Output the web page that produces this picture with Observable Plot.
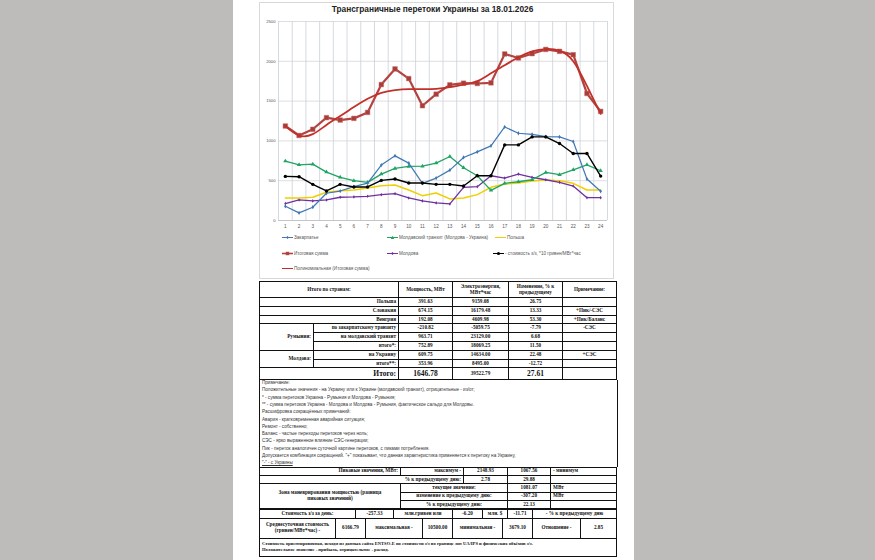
<!DOCTYPE html>
<html><head><meta charset="utf-8">
<script src="https://cdn.jsdelivr.net/npm/d3@7"></script>
<script src="https://cdn.jsdelivr.net/npm/@observablehq/plot@0.6"></script>
<style>
body{margin:0;width:875px;height:560px;position:relative;overflow:hidden;font-family:"Liberation Sans",Arial,sans-serif;}
.abs{position:absolute;}
#frame{left:259px;top:2px;width:355px;height:277px;border:1px solid #d9d9d9;box-sizing:border-box;}
#title{left:259px;top:4px;width:347px;text-align:center;font-weight:bold;font-size:8.3px;color:#222;}
#chart{left:259px;top:2px;}
.leg{position:absolute;font-size:4.6px;color:#555;white-space:nowrap;display:flex;align-items:center;height:6px;}
.leg svg{margin-right:1px;}
.cell{position:absolute;box-sizing:border-box;border-right:0.8px solid #111;border-bottom:0.8px solid #111;display:flex;align-items:center;padding:0 2px;font-family:"Liberation Serif","Times New Roman",serif;font-weight:bold;font-size:5.2px;line-height:1.15;color:#111;white-space:nowrap;overflow:hidden;}
.tbl{position:absolute;box-sizing:content-box;border-left:1.2px solid #111;border-top:1.2px solid #111;}
.note{position:absolute;left:2px;font-size:4.6px;color:#333;white-space:nowrap;}
</style></head><body>
<div class="abs" style="left:0;top:0;width:233px;height:560px;background-color:rgb(190,187,187)"></div>
<div class="abs" style="left:634px;top:0;width:241px;height:560px;background-color:rgb(190,187,187)"></div>
<div id="frame" class="abs"></div>
<div id="chart" class="abs"></div>
<div id="title" class="abs">Трансграничные перетоки Украины за 18.01.2026</div>
<div id="legend"></div>
<div id="tables"></div>
<script>
// ---------- chart data ----------
const hours = [1,2,3,4,5,6,7,8,9,10,11,12,13,14,15,16,17,18,19,20,21,22,23,24];
const yTicks = [0,500,1000,1500,2000,2500];
const zakarpattia = [179,96,167,342,370,425,470,696,812,721,467,533,633,792,862,938,1175,1096,1083,1054,1050,992,521,367];
const moldTransit = [746,700,708,608,542,500,479,583,654,679,683,721,804,662,562,379,467,487,512,604,575,637,700,625];
const poland = [283,283,292,354,375,383,408,437,446,383,312,346,271,283,325,417,458,471,496,508,500,467,383,383];
const total = [1187,1068,1146,1292,1262,1283,1358,1708,1904,1783,1442,1587,1704,1725,1721,1729,2092,2042,2096,2149,2125,2083,1596,1371];
const moldova = [212,258,246,258,292,296,304,325,337,283,246,221,208,417,425,562,533,583,542,512,479,433,287,287];
const cost = [554,550,454,371,454,421,421,504,521,471,471,454,454,433,562,562,950,950,1050,1050,967,842,842,558];
const trend = [1185,1068,1085,1200,1312,1425,1529,1604,1637,1650,1650,1654,1675,1706,1750,1850,1950,2050,2125,2154,2133,2000,1690,1340];

const seriesNames = ["Закарпатье","Молдавский транзит (Молдова - Украина)","Польша","Итоговая сумма","Молдова","- стоимость з/з, *10 гривен/МВт*час","Полиномиальная (Итоговая сумма)"];
const colors = ["#3f78b5","#1fa463","#f0cf00","#b3433f","#7030a0","#000000","#c3302a"];

const rows = (vals) => hours.map((h,i)=>({h, v: vals[i]}));
const edges = [0.5].concat(hours.map(h=>h+0.5));

const chart = Plot.plot({
  width: 355, height: 230,
  marginLeft: 19, marginRight: 7, marginTop: 19, marginBottom: 12,
  x: {domain: [0.5, 24.5], label: null},
  y: {domain: [0, 2500], label: null},
  style: {fontFamily: "'Liberation Sans',Arial,sans-serif", fontSize: "4.4px", color: "#555", background: "transparent", overflow: "visible"},
  marks: [
    Plot.gridY(yTicks, {stroke: "#d6d6d6", strokeOpacity: 1, strokeWidth: 0.8}),
    Plot.ruleX(edges, {stroke: "#c9d0d9", strokeWidth: 0.8}),
    Plot.ruleY([0], {stroke: "#bfbfbf", strokeWidth: 0.8}),
    Plot.axisX(hours, {tickSize: 0, tickPadding: 4, fontSize: 4.6, label: null, tickFormat: d => String(d)}),
    Plot.axisY(yTicks, {tickSize: 0, tickPadding: 3, fontSize: 4.2, label: null, tickFormat: d => String(d)}),
    Plot.line(rows(poland), {x:"h", y:"v", stroke: colors[2], strokeWidth: 1.5}),
    Plot.line(rows(moldova), {x:"h", y:"v", stroke: colors[4], strokeWidth: 1.3}),
    Plot.dot(rows(moldova), {x:"h", y:"v", fill: colors[4], r: 1.1, symbol: "diamond"}),
    Plot.line(rows(moldTransit), {x:"h", y:"v", stroke: colors[1], strokeWidth: 1.3}),
    Plot.dot(rows(moldTransit), {x:"h", y:"v", fill: colors[1], r: 1.6, symbol: "triangle"}),
    Plot.line(rows(zakarpattia), {x:"h", y:"v", stroke: colors[0], strokeWidth: 1.2}),
    Plot.dot(rows(zakarpattia), {x:"h", y:"v", fill: colors[0], r: 1.3, symbol: "diamond"}),
    Plot.line(rows(cost), {x:"h", y:"v", stroke: colors[5], strokeWidth: 1.4}),
    Plot.dot(rows(cost), {x:"h", y:"v", fill: colors[5], r: 1.7}),
    Plot.line(rows(total), {x:"h", y:"v", stroke: colors[3], strokeWidth: 2.2}),
    Plot.dot(rows(total), {x:"h", y:"v", fill: "#a83d3a", stroke: "#c56a66", strokeWidth: 0.5, r: 2.6, symbol: "square"}),
    Plot.line(rows(trend), {x:"h", y:"v", stroke: colors[6], strokeWidth: 1.8, curve: "natural"})
  ]
});
document.getElementById("chart").appendChild(chart);

// ---------- legend ----------
const legendPos = [[282,234],[387,234],[495,234],[282,250],[387,250],[493,250],[282,265]];
const legendMarks = ["diamond","triangle","none","square","diamond","circle","none"];
const leg = document.getElementById("legend");
seriesNames.forEach((name,i)=>{
  const d = document.createElement("div");
  d.className = "leg";
  d.style.left = legendPos[i][0]+"px"; d.style.top = legendPos[i][1]+"px";
  const c = colors[i];
  let m = "";
  if (legendMarks[i]==="diamond") m = `<path d="M5.5,1 L7,2.5 L5.5,4 L4,2.5Z" fill="${c}"/>`;
  if (legendMarks[i]==="triangle") m = `<path d="M5.5,0.8 L7.2,4 L3.8,4Z" fill="${c}"/>`;
  if (legendMarks[i]==="square") m = `<rect x="3.8" y="0.8" width="3.4" height="3.4" fill="${c}"/>`;
  if (legendMarks[i]==="circle") m = `<circle cx="5.5" cy="2.5" r="1.6" fill="${c}"/>`;
  d.innerHTML = `<svg width="11" height="5"><line x1="0" x2="11" y1="2.5" y2="2.5" stroke="${c}" stroke-width="${i===3?1.6:1}"/>${m}</svg><span>${name}</span>`;
  leg.appendChild(d);
});

// ---------- table data ----------
const countryLabels = ["Польша","Словакия","Венгрия","по закарпатскому транзиту","на молдавский транзит","итого*:","на Украину","итого**:","Итого:"];
const powerMW = ["391.63","674.15","192.08","-210.82","963.71","752.89","609.75","353.96","1646.78"];
const energyMWh = ["9159.08","16179.48","4609.98","-5059.75","23129.00","18069.25","14634.00","8495.00","39522.79"];
const changePct = ["26.75","13.33","53.30","-7.79","6.68","11.50","22.48","-12.72","27.61"];
const remarks = ["","+Пик/-СЭС","+Пик/Баланс","-СЭС","","","+СЭС","",""];
const noteLines = [
 "Примечание:",
 "Положительные значения - на Украину или к Украине (молдавский транзит), отрицательные - из/от;",
 "* - сумма перетоков Украина - Румыния и Молдова - Румыния;",
 "** - сумма перетоков Украина - Молдова и Молдова - Румыния, фактическое сальдо для Молдовы.",
 "Расшифровка сокращённых примечаний:",
 "Авария - кратковременная аварийная ситуация;",
 "Ремонт - собственно;",
 "Баланс - частые переходы перетоков через ноль;",
 "СЭС - ярко выраженное влияние СЭС-генерации;",
 "Пик - переток аналогичен суточной картине перетоков, с пиками потребления.",
 "Допускается комбинация сокращений. \"+\" показывает, что данная характеристика применяется к перетоку на Украину,",
 "\"-\" - с Украины"
];
const peakMax = "2148.93", peakMin = "1067.56", peakMaxPct = "2.78", peakMinPct = "29.88";
const zoneNow = "1081.07", zoneChange = "-307.20", zonePct = "22.13";
const costDay = ["-257.33","-6.20","-11.71"];
const avgCost = ["6166.79","10500.00","3679.10","2.85"];

// ---------- table helper ----------
const T = document.getElementById("tables");
function grid(left, top, cols, rowsH, cells){
  const tb = document.createElement("div");
  tb.className = "tbl";
  const W = cols.reduce((a,b)=>a+b,0), H = rowsH.reduce((a,b)=>a+b,0);
  tb.style.left = left+"px"; tb.style.top = top+"px"; tb.style.width = W+"px"; tb.style.height = H+"px";
  const cx = [0]; cols.forEach(w=>cx.push(cx[cx.length-1]+w));
  const ry = [0]; rowsH.forEach(h=>ry.push(ry[ry.length-1]+h));
  cells.forEach(([r,c,rs,cs,text,align,extra])=>{
    const d = document.createElement("div");
    d.className = "cell";
    d.style.left = cx[c]+"px"; d.style.top = ry[r]+"px";
    d.style.width = (cx[c+cs]-cx[c])+"px"; d.style.height = (ry[r+rs]-ry[r])+"px";
    d.style.justifyContent = align==="r"?"flex-end":align==="l"?"flex-start":"center";
    d.style.textAlign = align==="r"?"right":align==="l"?"left":"center";
    if (extra) Object.assign(d.style, extra);
    d.innerHTML = text;
    tb.appendChild(d);
  });
  T.appendChild(tb);
  return tb;
}

// Table 1
const c1 = [];
c1.push([0,0,1,2,"Итого по странам:","c"],[0,2,1,1,"Мощность, МВт","c"],[0,3,1,1,"Электроэнергия,<br>МВт*час","c"],[0,4,1,1,"Изменение, % к<br>предыдущему","c"],[0,5,1,1,"Примечание:","c"]);
countryLabels.forEach((lab,i)=>{
  const r = i+1;
  const big = i===8;
  if (i<3 || i===8) c1.push([r,0,1,2,lab,"r", big?{fontSize:"7.5px"}:null]);
  else c1.push([r,1,1,1,lab,"r"]);
  c1.push([r,2,1,1,powerMW[i],"c", big?{fontSize:"7.5px"}:null]);
  c1.push([r,3,1,1,energyMWh[i],"c"]);
  c1.push([r,4,1,1,changePct[i],"c", big?{fontSize:"7.5px"}:null]);
  c1.push([r,5,1,1,remarks[i],"c"]);
});
c1.push([4,0,3,1,"Румыния:","r"],[7,0,2,1,"Молдова:","r"]);
grid(259, 281, [54,85,54,56,54,54], [16,8.8,8.8,8.8,8.8,8.8,8.8,8.8,8.8,12], c1);

// Notes
const nb = document.createElement("div");
nb.className = "abs";
Object.assign(nb.style,{left:"259px",top:"380px",width:"357px",height:"87px",borderLeft:"1.2px solid #111",borderRight:"1.2px solid #111",boxSizing:"content-box"});
noteLines.forEach((t,i)=>{
  const s = document.createElement("div"); s.className="note"; s.style.top = (0.2+i*7.27)+"px"; s.textContent = t;
  if (i===11) s.style.textDecoration = "underline";
  nb.appendChild(s);
});
T.appendChild(nb);

// Table 2 (peaks)
grid(259, 466.5, [141,63,44,43,66], [8.4,8.4,8.4,8.4,8.4], [
  [0,0,1,1,"Пиковые значения, МВт:","r"],[0,1,1,1,"максимум -","r"],[0,2,1,1,peakMax,"c"],[0,3,1,1,peakMin,"c"],[0,4,1,1,"- минимум","l"],
  [1,0,1,2,"% к предыдущему дню:","r"],[1,2,1,1,peakMaxPct,"c"],[1,3,1,1,peakMinPct,"c"],[1,4,1,1,"","l"],
  [2,0,3,1,"Зона маневрирования мощностью (разница<br>пиковых значений)","c",{whiteSpace:"normal"}],
  [2,1,1,2,"текущее значение:","c"],[2,3,1,1,zoneNow,"c"],[2,4,1,1,"МВт","l"],
  [3,1,1,2,"изменение к предыдущему дню:","c"],[3,3,1,1,zoneChange,"c"],[3,4,1,1,"МВт","l"],
  [4,1,1,2,"% к предыдущему дню:","c"],[4,3,1,1,zonePct,"c"],[4,4,1,1,"","l"]
]);
// Table 3 row: cost per day
grid(259, 508.5, [96,38,59,30,25,25,84], [9.5], [
  [0,0,1,1,"Стоимость з/з за день:","c"],[0,1,1,1,costDay[0],"c"],[0,2,1,1,"млн.гривен или","c"],[0,3,1,1,costDay[1],"c"],
  [0,4,1,1,"млн. $","c"],[0,5,1,1,costDay[2],"c"],[0,6,1,1,"- % к предыдущему дню","c"]
]);
// Table 3 row: average cost
grid(259, 518, [76,30,57,30,50,30,48,36], [19.5], [
  [0,0,1,1,"Среднесуточная стоимость<br>(гривен/МВт*час) -","c"],[0,1,1,1,avgCost[0],"c"],[0,2,1,1,"максимальная -","c"],[0,3,1,1,avgCost[1],"c"],
  [0,4,1,1,"минимальная -","c"],[0,5,1,1,avgCost[2],"c"],[0,6,1,1,"Отношение -","c"],[0,7,1,1,avgCost[3],"c"]
]);
// Footnote
grid(259, 537.5, [357], [18.5], [
  [0,0,1,1,"Стоимость ориентировочная, исходя из данных сайта ENTSO-E по стоимости з/з по границе зон UA/IPS и физических объёмов з/з.<br>Положительное значение - прибыль, отрицательное - расход.","l",{fontSize:"4.6px",lineHeight:"1.45"}]
]);
</script>
</body></html>
